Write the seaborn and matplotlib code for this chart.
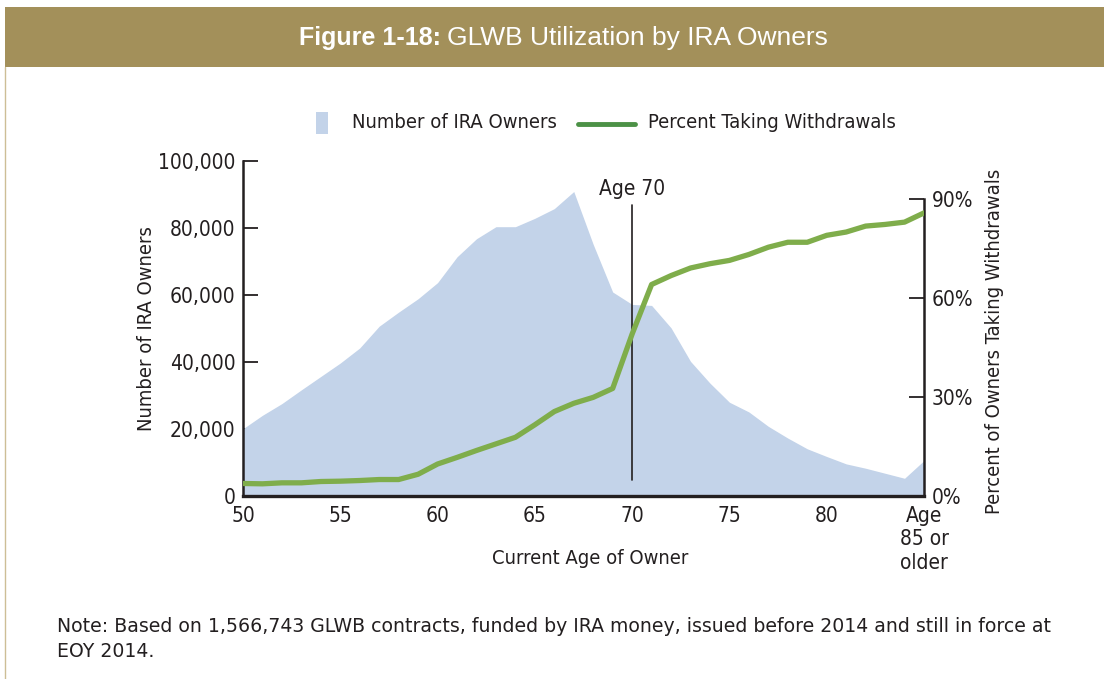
import numpy as np
import pandas as pd
import matplotlib.pyplot as plt
import seaborn as sns
from matplotlib.patches import Rectangle
from matplotlib.lines import Line2D
import matplotlib.transforms as mtransforms

# Dane
ages = list(range(50, 86))
owners = [20000, 24000, 27500, 31600, 35600, 39600, 44100, 50600, 54800, 58800,
          63600, 71300, 76700, 80300, 80300, 82800, 85700, 90800, 75000, 60800,
          57100, 56800, 50100, 40100, 33600, 27900, 25000, 20700, 17200, 14000,
          11700, 9500, 8200, 6700, 5200, 10500]
pct_withdraw = [3.7, 3.6, 3.9, 3.9, 4.3, 4.4, 4.6, 4.9, 4.9, 6.5,
                9.6, 11.6, 13.7, 15.7, 17.7, 21.5, 25.5, 28.0, 29.8, 32.5,
                49.0, 64.0, 66.7, 69.0, 70.3, 71.3, 73.1, 75.3, 76.8, 76.8,
                78.9, 79.9, 81.7, 82.2, 82.9, 85.7]
x_labels = {50: '50', 55: '55', 60: '60', 65: '65', 70: '70', 75: '75', 80: '80',
            85: 'Age\n85 or\nolder'}
left_ticks = [0, 20000, 40000, 60000, 80000, 100000]
right_ticks = [0, 30, 60, 90]

df = pd.DataFrame({'Wiek': ages, 'Liczba': owners, 'Procent': pct_withdraw})

sns.set_theme(style="white")
plt.rcParams['font.family'] = ['DejaVu Sans']
plt.rcParams['font.stretch'] = 'condensed'
plt.rcParams['text.color'] = '#231F20'
plt.rcParams['axes.labelcolor'] = '#231F20'
plt.rcParams['xtick.color'] = '#231F20'
plt.rcParams['ytick.color'] = '#231F20'

dark = '#231F20'
area_col = '#C3D3E9'
green = '#7FAD4B'
fs = 15      # etykiety osi
fs_lab = 14.5  # tytuly osi, legenda

fig = plt.figure(figsize=(11.04, 6.79), dpi=100)
W, H = 1104, 679

# naglowek
fig.patches.append(Rectangle((5 / W, 1 - 67 / H), 1 - 5 / W, 60 / H, transform=fig.transFigure,
                             facecolor='#A3905A', edgecolor='none'))
fig.lines.append(Line2D([5.5 / W, 5.5 / W], [0, 1 - 67 / H], transform=fig.transFigure,
                        color='#CDBE96', lw=1))
fig.text(441 / W, 1 - 38 / H, 'Figure 1-18:', ha='right', va='center', color='white',
         fontsize=18, fontweight='bold', family=['Liberation Sans', 'DejaVu Sans'], fontstretch='normal')
fig.text(447 / W, 1 - 38 / H, 'GLWB Utilization by IRA Owners', ha='left', va='center',
         color='white', fontsize=19, family=['Liberation Sans', 'DejaVu Sans'], fontstretch='normal')

ax = fig.add_axes([243 / W, 1 - 495.7 / H, (924 - 243) / W, 335 / H])
ax.fill_between(df['Wiek'], df['Liczba'], color=area_col, lw=0, zorder=1)
ax.set_xlim(50, 85)
ax.set_ylim(0, 100000)
ax.set_yticks(left_ticks)
ax.set_yticklabels([f'{v:,}' for v in left_ticks])
ax.set_xticks(ages)
ax.set_xticklabels([x_labels.get(a, '') for a in ages])
ax.tick_params(axis='x', direction='in', length=6, width=1.3, pad=7.5, labelsize=fs)
ax.tick_params(axis='y', direction='in', length=11, width=1.3, pad=5.5, labelsize=fs)
for lab in ax.get_xticklabels():
    lab.set_linespacing(1.2)
ax.set_xlabel('Current Age of Owner', fontsize=fs_lab, va='center')
ax.xaxis.set_label_coords(0.51, -0.186)
ax.set_ylabel('Number of IRA Owners', fontsize=fs_lab, va='center', ha='center')
ax.yaxis.set_label_coords(-0.141, 0.5)

ax.axvline(70, ymin=0.047, ymax=0.868, color=dark, lw=1.2, zorder=2)
trans = mtransforms.blended_transform_factory(ax.transData, ax.transAxes)
ax.text(70, 0.915, 'Age 70', transform=trans, ha='center', va='center', fontsize=fs)

for s in ['top', 'right']:
    ax.spines[s].set_visible(False)
ax.spines['left'].set_color(dark)
ax.spines['left'].set_linewidth(1.8)
ax.spines['bottom'].set_color(dark)
ax.spines['bottom'].set_linewidth(2.4)

ax2 = ax.twinx()
sns.lineplot(data=df, x='Wiek', y='Procent', ax=ax2, color=green, lw=3.8, zorder=3)
ax2.set_ylim(0, 335 / 3.3)
ax2.set_yticks(right_ticks)
ax2.set_yticklabels([f'{v}%' for v in right_ticks])
ax2.tick_params(axis='y', direction='in', length=11, width=1.3, pad=5.5, labelsize=fs)
ax2.set_ylabel('Percent of Owners Taking Withdrawals', fontsize=fs_lab, va='center', ha='center')
ax2.yaxis.set_label_coords(1.104, 0.462)
ax2.set_xlabel('')
for s in ['top', 'left', 'bottom']:
    ax2.spines[s].set_visible(False)
ax2.spines['right'].set_color(dark)
ax2.spines['right'].set_linewidth(1.8)
ax2.spines['right'].set_bounds(0, 90)

# legenda
fig.patches.append(Rectangle((316 / W, 1 - 134 / H), 12 / W, 22 / H, transform=fig.transFigure,
                             facecolor=area_col, edgecolor='none'))
fig.text(352 / W, 1 - 123 / H, 'Number of IRA Owners', ha='left', va='center', fontsize=fs_lab)
fig.lines.append(Line2D([578 / W, 635 / W], [1 - 124 / H, 1 - 124 / H], transform=fig.transFigure,
                        color='#4C9146', lw=3.5))
fig.text(648 / W, 1 - 123 / H, 'Percent Taking Withdrawals', ha='left', va='center', fontsize=fs_lab)

# przypis
note = ('Note: Based on 1,566,743 GLWB contracts, funded by IRA money, issued before 2014 and still in force at\n'
        'EOY 2014.')
fig.text(57 / W, 1 - 639 / H, note, ha='left', va='center', fontsize=13.6, linespacing=1.4,
         family=['DejaVu Sans'], fontstretch='normal')

fig.savefig('out.png', dpi=100)
